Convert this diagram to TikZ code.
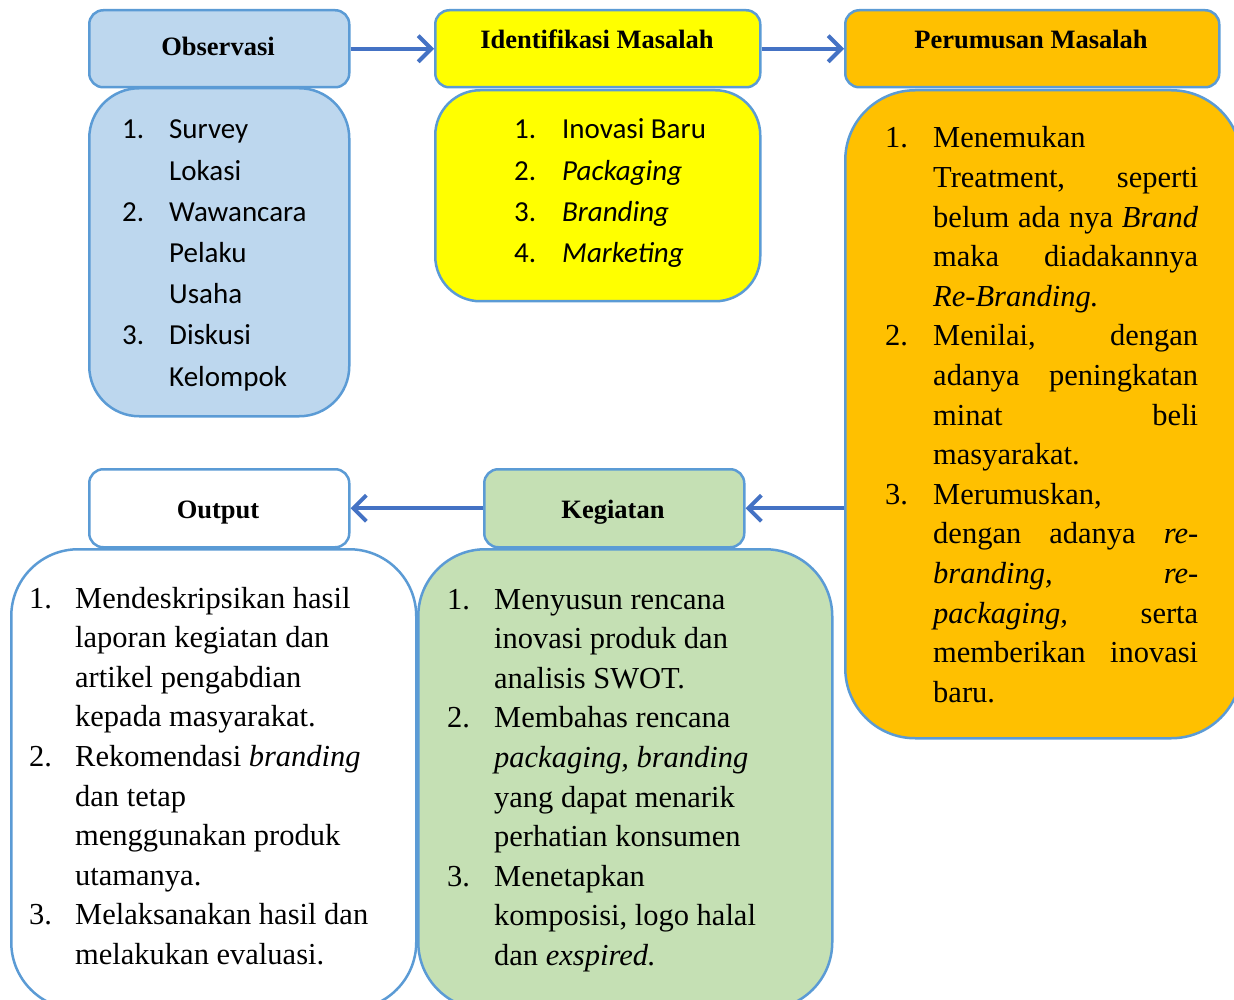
\documentclass[tikz,border=0pt]{standalone}
\usepackage{fontspec}
\setmainfont{Liberation Serif}
\newfontfamily\calfont{Carlito}
\usetikzlibrary{arrows.meta}
\definecolor{bordc}{HTML}{5B9BD5}
\definecolor{arrc}{HTML}{4472C4}
\definecolor{blueF}{HTML}{BDD7EE}
\definecolor{yelF}{HTML}{FFFF00}
\definecolor{orgF}{HTML}{FFC000}
\definecolor{grnF}{HTML}{C5E0B4}
\newcommand{\Jl}[1]{\makebox[265pt][s]{#1}}
\tikzset{
  boxbase/.style={draw=bordc, line width=2.5pt, inner sep=0pt, anchor=north west},
  hdr/.style={boxbase, rounded corners=14pt},
  lstbox/.style={boxbase, rounded corners=#1},
  link/.style={draw=arrc, line width=4pt, -{Straight Barb[length=13pt,width=26pt]}},
  htext/.style={font=\fontsize{26.5}{30}\selectfont\bfseries, anchor=base, inner sep=0pt},
  serl/.style={font=\fontsize{30.5}{39.6}\selectfont, anchor=base west, inner sep=0pt},
  sanl/.style={font=\calfont\fontsize{29}{41.2}\selectfont, anchor=base west, inner sep=0pt},
}
\begin{document}
\begin{tikzpicture}[x=1pt,y=-1pt]
\useasboundingbox (0,0) rectangle (1234,1000);
\clip (0,0) rectangle (1234,1000);

% header boxes
\node[hdr, fill=blueF, minimum width=260pt, minimum height=77pt] (obsH) at (88,9) {};
\node[hdr, fill=yelF, minimum width=325pt, minimum height=77pt] (idH) at (434,9) {};
\node[hdr, fill=orgF, minimum width=374pt, minimum height=77pt] (perH) at (844,9) {};
\node[hdr, fill=white, minimum width=260pt, minimum height=78pt] (outH) at (88,468) {};
\node[hdr, fill=grnF, minimum width=260pt, minimum height=78pt] (kegH) at (483,468) {};

% list boxes
\node[lstbox=50pt, fill=blueF, minimum width=260pt, minimum height=328pt] (obsL) at (88,87) {};
\node[lstbox=45pt, fill=yelF, minimum width=325pt, minimum height=211pt] (idL) at (434,89) {};
\node[lstbox=70pt, fill=orgF, minimum width=396pt, minimum height=648pt] (perL) at (844,89) {};
\node[lstbox=67pt, fill=white, minimum width=405pt, minimum height=460pt] (outL) at (10,548) {};
\node[lstbox=67pt, fill=grnF, minimum width=414pt, minimum height=460pt] (kegL) at (417,548) {};

% header labels
\node[htext] (obsN) at (218,56) {Observasi};
\node[htext] (idN) at (597,49) {Identifikasi Masalah};
\node[htext] (perN) at (1031,49) {Perumusan Masalah};
\node[htext] (outN) at (218,518) {Output};
\node[htext] (kegN) at (613,518) {Kegiatan};

% connectors
\draw[link] (obsH.east) -- (idH.west);
\draw[link] (idH.east) -- (perH.west);
\draw[link] (kegH.east -| perL.west) -- (kegH.east);
\draw[link] (kegH.west) -- (outH.east);

% list texts
\node[sanl] (obsT) at (122,139) {\begin{tabular}[t]{@{}p{47pt}@{}l@{}}
1. & Survey\\
   & Lokasi\\
2. & Wawancara\\
   & Pelaku\\
   & Usaha\\
3. & Diskusi\\
   & Kelompok
\end{tabular}};

\node[sanl] (idT) at (514,139) {\begin{tabular}[t]{@{}p{48pt}@{}l@{}}
1. & Inovasi Baru\\
2. & \textit{Packaging}\\
3. & \textit{Branding}\\
4. & \textit{Marketing}
\end{tabular}};

\node[serl] (perT) at (885,148) {\begin{tabular}[t]{@{}p{48pt}@{}l@{}}
1. & Menemukan\\
   & \Jl{Treatment, seperti}\\
   & \Jl{belum ada nya \textit{Brand}}\\
   & \Jl{maka diadakannya}\\
   & \textit{Re-Branding.}\\
2. & \Jl{Menilai, dengan}\\
   & \Jl{adanya peningkatan}\\
   & \Jl{minat beli}\\
   & masyarakat.\\
3. & Merumuskan,\\
   & \Jl{dengan adanya \textit{re-}}\\
   & \Jl{\textit{branding,} \textit{re-}}\\
   & \Jl{\textit{packaging,} serta}\\
   & \Jl{memberikan inovasi}\\
   & baru.
\end{tabular}};

\node[serl] (outT) at (29,608) {\begin{tabular}[t]{@{}p{46pt}@{}l@{}}
1. & Mendeskripsikan hasil\\
   & laporan kegiatan dan\\
   & artikel pengabdian\\
   & kepada masyarakat.\\
2. & Rekomendasi \textit{branding}\\
   & dan tetap\\
   & menggunakan produk\\
   & utamanya.\\
3. & Melaksanakan hasil dan\\
   & melakukan evaluasi.
\end{tabular}};

\node[serl] (kegT) at (447,609) {\begin{tabular}[t]{@{}p{47pt}@{}l@{}}
1. & Menyusun rencana\\
   & inovasi produk dan\\
   & analisis SWOT.\\
2. & Membahas rencana\\
   & \textit{packaging, branding}\\
   & yang dapat menarik\\
   & perhatian konsumen\\
3. & Menetapkan\\
   & komposisi, logo halal\\
   & dan \textit{exspired.}
\end{tabular}};
\end{tikzpicture}
\end{document}
